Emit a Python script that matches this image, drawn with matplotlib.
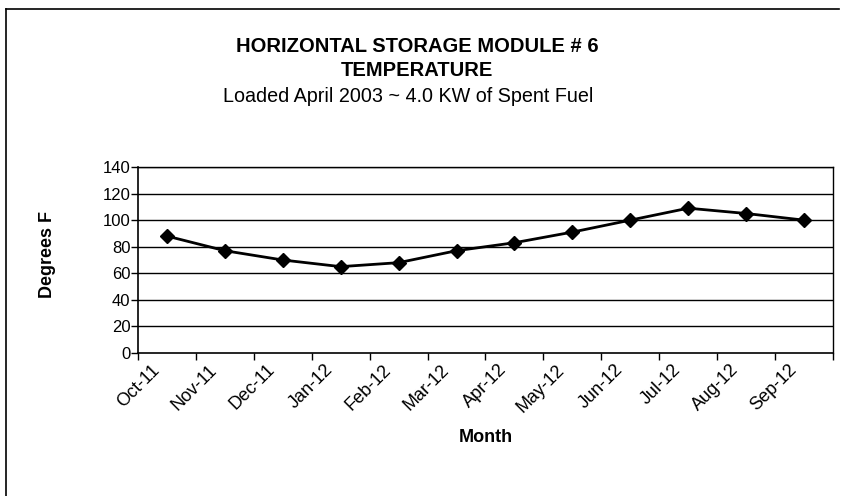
import matplotlib.pyplot as plt
from matplotlib.lines import Line2D
import numpy as np

plt.rcParams['font.family'] = ['Liberation Sans', 'DejaVu Sans']

months = ["Oct-11", "Nov-11", "Dec-11", "Jan-12", "Feb-12", "Mar-12",
          "Apr-12", "May-12", "Jun-12", "Jul-12", "Aug-12", "Sep-12"]
temps = [88, 77, 70, 65, 68, 77, 83, 91, 100, 109, 105, 100]
yticks = [0, 20, 40, 60, 80, 100, 120, 140]

fig = plt.figure(figsize=(8.41, 4.96), dpi=100)
ax = fig.add_axes([138 / 841, 1 - 353 / 496, 695 / 841, 186 / 496])

x = np.arange(len(months))
ax.plot(x, temps, color='black', linewidth=2.0, marker='D', markersize=7.5,
        markerfacecolor='black', markeredgecolor='black', zorder=3)

ax.set_xlim(-0.5, len(months) - 0.5)
ax.set_ylim(0, 140)
ax.set_yticks(yticks)
for v in yticks[1:]:
    ax.axhline(v, color='black', linewidth=1.0, zorder=1)

# rotated labels sit a little left of the category centre, as in Excel
ax.set_xticks(x - 0.28)
ax.set_xticklabels(months, rotation=45, ha='right', va='top',
                   rotation_mode='anchor', fontsize=13)
ax.set_xticks(np.arange(-0.5, len(months)), minor=True)
ax.tick_params(axis='x', which='major', length=0, pad=6)
ax.tick_params(axis='x', which='minor', length=5, width=1, direction='out')
ax.tick_params(axis='y', length=5, width=1, direction='out', labelsize=12, pad=0.5)

for s in ['top', 'right']:
    ax.spines[s].set_linewidth(1.0)
for s in ['left', 'bottom']:
    ax.spines[s].set_linewidth(1.2)

fig.text(486 / 841, 1 - 437 / 496, "Month", ha='center', va='center',
         fontsize=13, fontweight='bold')
fig.text(48 / 841, 1 - 255 / 496, "Degrees F", rotation=90, ha='center',
         va='center', fontsize=13, fontweight='bold')

fig.text(417 / 841, 1 - 47 / 496, "HORIZONTAL STORAGE MODULE # 6",
         ha='center', va='center', fontsize=14.5, fontweight='bold')
fig.text(417 / 841, 1 - 71 / 496, "TEMPERATURE",
         ha='center', va='center', fontsize=14.5, fontweight='bold')
fig.text(408 / 841, 1 - 96 / 496, "Loaded April 2003 ~ 4.0 KW of Spent Fuel",
         ha='center', va='center', fontsize=14.2)

# outer frame (left and top edges visible in the scan)
fig.add_artist(Line2D([6 / 841, 6 / 841], [0, 1 - 9 / 496], transform=fig.transFigure,
                      color='black', linewidth=1.2))
fig.add_artist(Line2D([6 / 841, 839 / 841], [1 - 9 / 496, 1 - 9 / 496],
                      transform=fig.transFigure, color='black', linewidth=1.2))

fig.savefig("out.png", dpi=100)
